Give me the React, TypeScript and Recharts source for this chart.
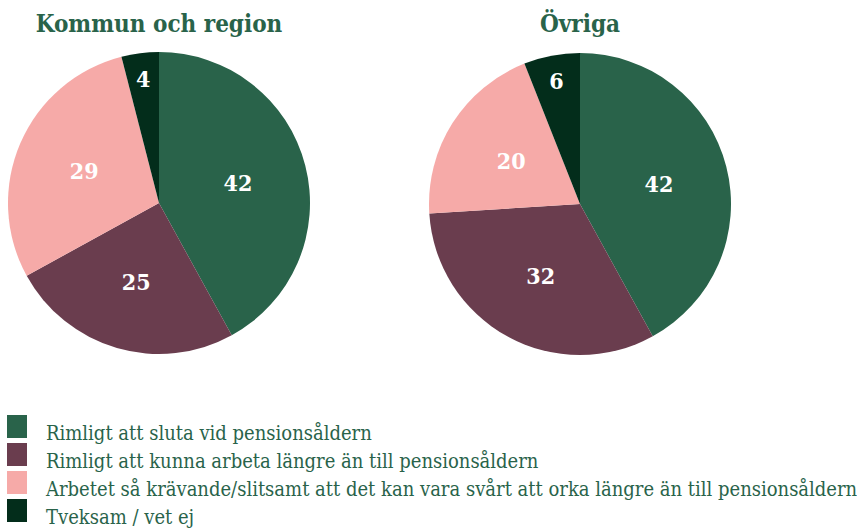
// App.tsx
// Two pie charts comparing views on retirement age.
import { PieChart, Pie, Cell, Legend } from "recharts";

const CATEGORIES = [
  "Rimligt att sluta vid pensionsåldern",
  "Rimligt att kunna arbeta längre än till pensionsåldern",
  "Arbetet så krävande/slitsamt att det kan vara svårt att orka längre än till pensionsåldern",
  "Tveksam / vet ej",
];
const KOMMUN_VALUES = [42, 25, 29, 4];
const OVRIGA_VALUES = [42, 32, 20, 6];
const TITLES = ["Kommun och region", "Övriga"];

const COLORS = ["#29634a", "#6a3d4e", "#f6aaa8", "#032d1b"];
const TITLE_COLOR = "#29634a";
const FONT = "'DejaVu Serif Condensed', 'DejaVu Serif', serif";

const kommunData = CATEGORIES.map((name, i) => ({ name, value: KOMMUN_VALUES[i] }));
const ovrigaData = CATEGORIES.map((name, i) => ({ name, value: OVRIGA_VALUES[i] }));

const RAD = Math.PI / 180;

function renderLabel(props: any) {
  const { cx, cy, midAngle, outerRadius, value } = props;
  const r = outerRadius * (value < 10 ? 0.83 : 0.54);
  const x = cx + r * Math.cos(-midAngle * RAD);
  const y = cy + r * Math.sin(-midAngle * RAD);
  return (
    <text
      x={x}
      y={y}
      fill="#ffffff"
      textAnchor="middle"
      dominantBaseline="central"
      fontFamily={FONT}
      fontWeight="bold"
      fontSize={23}
    >
      {value}
    </text>
  );
}

function LegendContent() {
  return (
    <div style={{ fontFamily: FONT, fontStretch: "condensed", fontSize: 20, lineHeight: "22px", color: TITLE_COLOR }}>
      {CATEGORIES.map((c, i) => (
        <div key={c} style={{ position: "relative", height: 28 }}>
          <span
            style={{
              position: "absolute", left: 0, top: 0, width: 20, height: 23,
              background: COLORS[i],
            }}
          />
          <span style={{ position: "absolute", left: 39, top: 7, whiteSpace: "nowrap" }}>{c}</span>
        </div>
      ))}
    </div>
  );
}

export default function App() {
  return (
    <div style={{ position: "absolute", left: 0, top: 0, background: "#fff" }}>
      <PieChart width={857} height={528} margin={{ top: 0, right: 0, bottom: 0, left: 0 }}>
        <text x={159} y={32} textAnchor="middle" fontFamily={FONT} fontStretch="condensed" fontWeight="bold" fontSize={24} fill={TITLE_COLOR}>
          {TITLES[0]}
        </text>
        <text x={580} y={32} textAnchor="middle" fontFamily={FONT} fontStretch="condensed" fontWeight="bold" fontSize={24} fill={TITLE_COLOR}>
          {TITLES[1]}
        </text>
        <Pie
          data={kommunData}
          dataKey="value"
          cx={159}
          cy={203}
          outerRadius={151}
          startAngle={90}
          endAngle={-270}
          stroke="none"
          label={renderLabel}
          labelLine={false}
          isAnimationActive={false}
        >
          {kommunData.map((d, i) => <Cell key={d.name} fill={COLORS[i]} />)}
        </Pie>
        <Pie
          data={ovrigaData}
          dataKey="value"
          cx={580}
          cy={204}
          outerRadius={151}
          startAngle={90}
          endAngle={-270}
          stroke="none"
          label={renderLabel}
          labelLine={false}
          isAnimationActive={false}
        >
          {ovrigaData.map((d, i) => <Cell key={d.name} fill={COLORS[i]} />)}
        </Pie>
        <Legend
          content={<LegendContent />}
          wrapperStyle={{ left: 7, top: 415, width: 850 }}
        />
      </PieChart>
    </div>
  );
}
